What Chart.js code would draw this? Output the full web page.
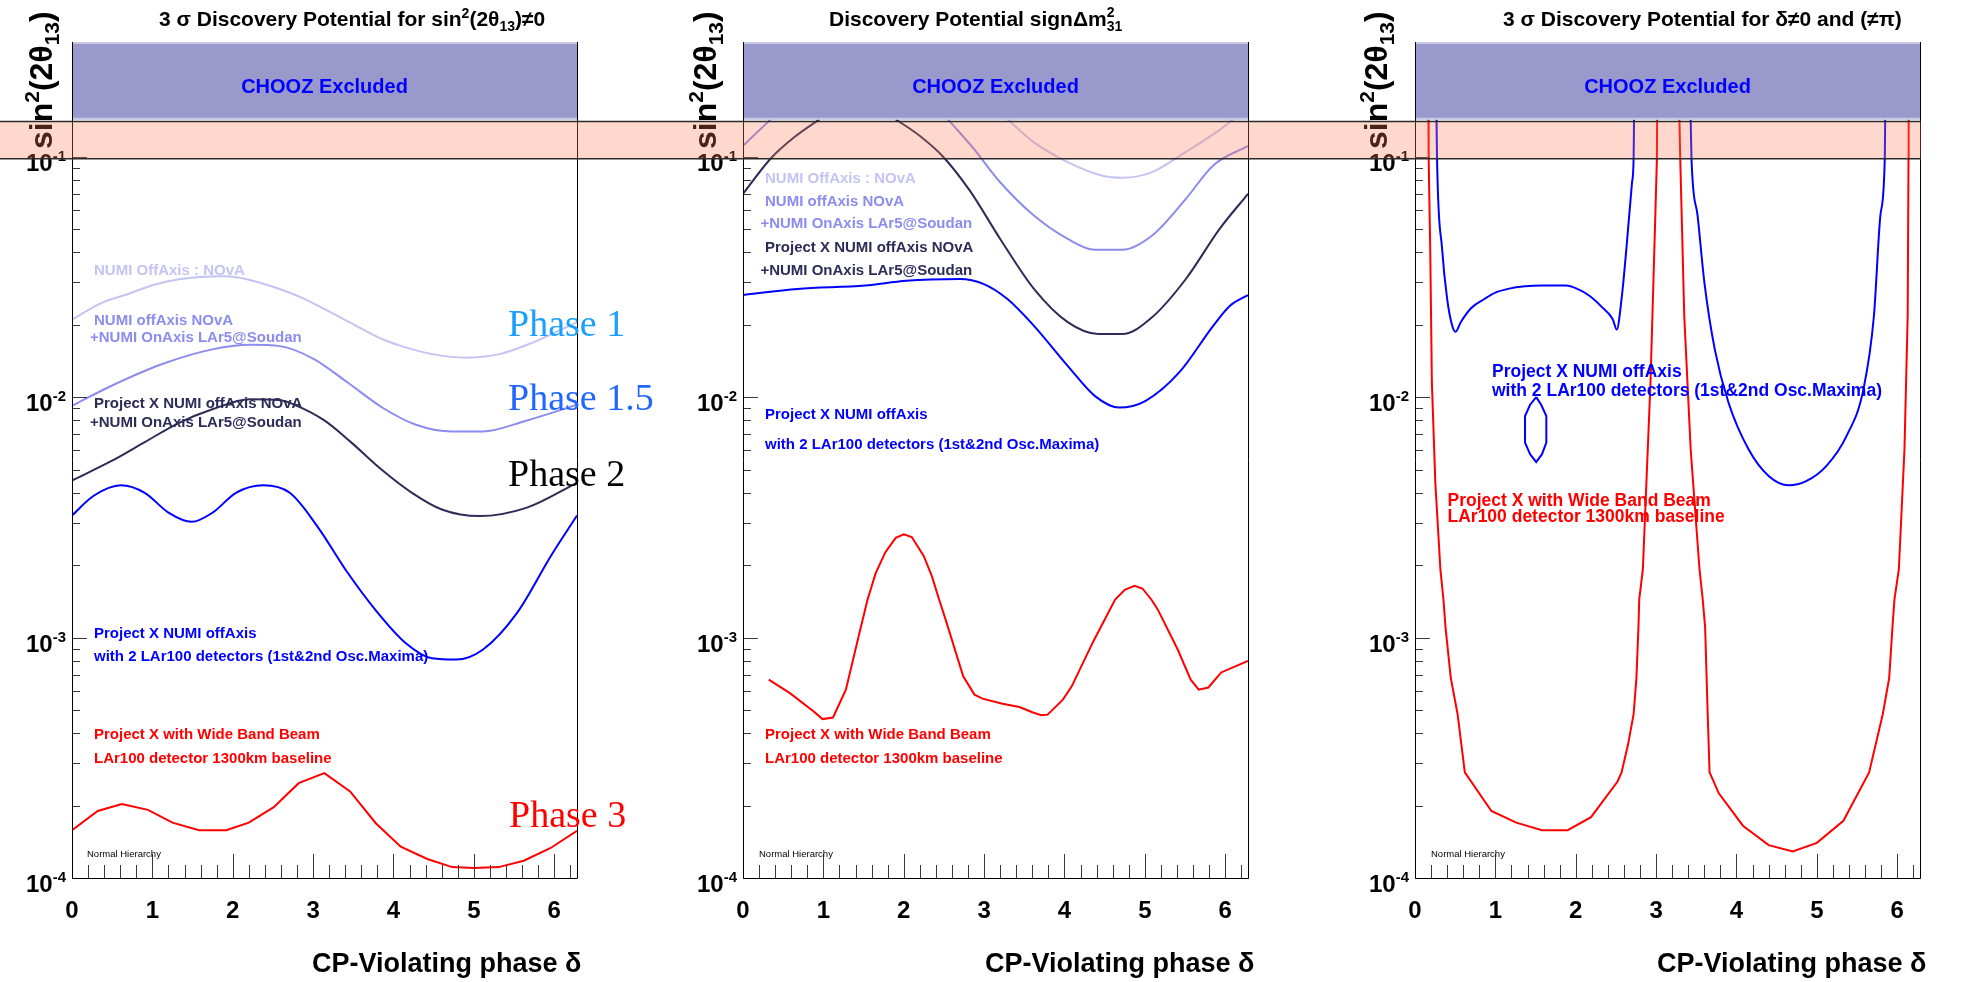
<!DOCTYPE html>
<html>
<head>
<meta charset="utf-8">
<script src="https://cdn.jsdelivr.net/npm/chart.js@4.4.1/dist/chart.umd.min.js"></script>
<style>
  html, body { margin: 0; padding: 0; background: #fff; }
  #wrap { position: relative; width: 1967px; height: 982px; overflow: hidden; }
  canvas { position: absolute; top: 0; }
</style>
</head>
<body>
<div id="wrap">
  <canvas id="p1" width="660" height="982" style="left:0px"></canvas>
  <canvas id="p2" width="670" height="982" style="left:660px"></canvas>
  <canvas id="p3" width="637" height="982" style="left:1330px"></canvas>
</div>
<script>
// axis ranges / ticks
const xRange = [0, 2 * Math.PI];
const yRange = [1e-4, 0.3];
const xTickLabels = [0, 1, 2, 3, 4, 5, 6];
const yTickExp = [-4, -3, -2, -1];
const choozLimit = [0.143, 0.3];   // excluded region
const highlightBand = [0.098, 0.14];

// panel 1 : sin^2(2theta13) != 0   [delta, sin^2 2theta13]
const s13_nova = [[0,0.021],[0.35,0.0245],[0.69,0.0268],[1.0,0.0292],[1.33,0.0309],[1.6,0.0316],[1.9,0.0318],[2.2,0.0308],[2.5,0.0288],[2.85,0.026],[3.22,0.0225],[3.55,0.0197],[3.85,0.0175],[4.15,0.0161],[4.48,0.0151],[4.9,0.0146],[5.32,0.0151],[5.74,0.0169],[6.0,0.0185],[6.2832,0.0205]];
const s13_novaLar5 = [[0,0.0092],[0.48,0.0111],[1.115,0.0137],[1.746,0.0158],[2.21,0.0165],[2.59,0.0163],[3.01,0.0144],[3.43,0.0115],[3.85,0.0091],[4.27,0.0077],[4.73,0.0072],[5.11,0.0072],[5.66,0.008],[6.2832,0.0093]];
const s13_pxNova = [[0,0.0045],[0.48,0.0054],[0.905,0.0065],[1.326,0.0078],[1.746,0.0089],[2.21,0.0098],[2.59,0.0097],[2.8,0.0092],[3.14,0.008],[3.47,0.0065],[3.85,0.005],[4.23,0.004],[4.61,0.0034],[5.07,0.0032],[5.66,0.00347],[6.2832,0.0044]];
const s13_px2Lar = [[0,0.00322],[0.27,0.00389],[0.61,0.0043],[0.905,0.004],[1.2,0.00331],[1.49,0.00303],[1.75,0.00331],[2.04,0.004],[2.38,0.0043],[2.71,0.004],[3.05,0.00291],[3.43,0.00186],[3.77,0.00131],[4.15,0.00095],[4.48,0.00082],[4.78,0.00081],[5.11,0.00089],[5.54,0.00127],[5.96,0.00219],[6.2832,0.00322]];
const s13_wbb = [[0,1.58e-4],[0.32,1.9e-4],[0.62,2.03e-4],[0.945,1.92e-4],[1.25,1.7e-4],[1.58,1.58e-4],[1.92,1.58e-4],[2.2,1.7e-4],[2.51,1.97e-4],[2.82,2.48e-4],[3.14,2.73e-4],[3.46,2.29e-4],[3.78,1.69e-4],[4.09,1.35e-4],[4.42,1.2e-4],[4.73,1.11e-4],[5.0,1.1e-4],[5.31,1.11e-4],[5.62,1.18e-4],[5.95,1.33e-4],[6.2832,1.57e-4]];

// panel 2 : sign of dm^2_31
const mh_nova = [[3.29,0.143],[3.62,0.1147],[4.04,0.095],[4.46,0.0836],[4.72,0.0818],[5.09,0.0863],[5.51,0.1047],[5.89,0.1266],[6.1,0.143]];
const mh_novaLar5_a = [[0,0.111],[0.345,0.143]];
const mh_novaLar5_b = [[2.55,0.143],[2.87,0.108],[3.2,0.0783],[3.62,0.0569],[4.04,0.0455],[4.38,0.041],[4.72,0.041],[5.09,0.047],[5.51,0.0668],[5.85,0.092],[6.2832,0.111]];
const mh_pxNova_a = [[0,0.0701],[0.345,0.0983],[0.64,0.1207],[0.95,0.143]];
const mh_pxNova_b = [[1.9,0.143],[2.19,0.1228],[2.49,0.1],[2.82,0.0724],[3.2,0.0455],[3.62,0.0282],[4.04,0.0205],[4.42,0.0183],[4.72,0.0183],[5.09,0.0215],[5.51,0.031],[5.93,0.0501],[6.2832,0.0701]];
const mh_px2Lar = [[0,0.0266],[0.68,0.0282],[1.52,0.0291],[2.03,0.0305],[2.7,0.031],[2.99,0.0296],[3.29,0.0256],[3.62,0.0198],[4.04,0.0135],[4.38,0.0101],[4.68,0.00905],[5.01,0.00966],[5.43,0.0127],[5.85,0.0198],[6.06,0.024],[6.2832,0.0266]];
const mh_wbb = [[0.32,6.68e-4],[0.58,5.89e-4],[0.88,4.93e-4],[0.99,4.58e-4],[1.12,4.65e-4],[1.28,6.07e-4],[1.45,1.05e-3],[1.55,1.44e-3],[1.65,1.85e-3],[1.77,2.26e-3],[1.9,2.6e-3],[2.0,2.69e-3],[2.1,2.62e-3],[2.25,2.18e-3],[2.35,1.8e-3],[2.44,1.44e-3],[2.52,1.19e-3],[2.74,6.9e-4],[2.88,5.79e-4],[2.98,5.57e-4],[3.23,5.31e-4],[3.44,5.14e-4],[3.6,4.89e-4],[3.71,4.75e-4],[3.79,4.78e-4],[3.98,5.52e-4],[4.09,6.27e-4],[4.36,9.66e-4],[4.63,1.44e-3],[4.75,1.58e-3],[4.87,1.64e-3],[4.97,1.6e-3],[5.08,1.44e-3],[5.16,1.31e-3],[5.41,8.9e-4],[5.57,6.68e-4],[5.67,6.07e-4],[5.79,6.2e-4],[5.95,7.16e-4],[6.2832,8.0e-4]];

// panel 3 : delta != 0 and != pi
const cp_px2Lar_a = [[0.268,0.143],[0.274,0.0986],[0.337,0.0414],[0.4,0.0256],[0.463,0.0198],[0.505,0.0187],[0.569,0.0205],[0.7,0.0235],[0.863,0.0256],[1.0,0.0272],[1.158,0.0282],[1.37,0.0289],[1.58,0.0291],[1.874,0.0291],[2.02,0.0282],[2.17,0.0264],[2.32,0.0238],[2.46,0.0211],[2.51,0.0191],[2.57,0.0256],[2.63,0.0414],[2.7,0.078],[2.72,0.0986],[2.725,0.143]];
const cp_px2Lar_lens = [[1.508,0.0100],[1.57,0.0093],[1.634,0.00835],[1.634,0.00647],[1.58,0.00579],[1.508,0.00537],[1.432,0.00579],[1.369,0.00647],[1.369,0.00835],[1.432,0.0093],[1.508,0.0100]];
const cp_px2Lar_b = [[3.43,0.143],[3.44,0.0986],[3.516,0.0569],[3.6,0.0301],[3.73,0.0158],[3.9,0.0095],[4.15,0.00607],[4.4,0.0047],[4.65,0.0043],[4.86,0.00446],[5.12,0.00518],[5.37,0.0069],[5.58,0.0108],[5.71,0.0218],[5.79,0.0569],[5.845,0.0986],[5.85,0.143]];
const cp_wbb_a = [[0.167,0.143],[0.17,0.0986],[0.19,0.04],[0.21,0.0115],[0.253,0.0044],[0.316,0.00192],[0.354,1.44e-3],[0.38,1.1e-3],[0.445,6.8e-4],[0.53,4.8e-4],[0.62,2.75e-4],[0.95,1.9e-4],[1.26,1.7e-4],[1.58,1.58e-4],[1.9,1.58e-4],[2.19,1.79e-4],[2.52,2.52e-4],[2.57,2.75e-4],[2.65,3.58e-4],[2.72,4.8e-4],[2.755,6.8e-4],[2.78,1.1e-3],[2.79,1.44e-3],[2.835,0.00192],[2.93,0.0115],[2.99,0.0569],[3.01,0.0986],[3.012,0.143]];
const cp_wbb_b = [[3.29,0.143],[3.3,0.0986],[3.35,0.0218],[3.43,0.00607],[3.54,0.00192],[3.58,1.44e-3],[3.61,1.1e-3],[3.64,5e-4],[3.665,2.75e-4],[3.78,2.25e-4],[4.08,1.65e-4],[4.4,1.37e-4],[4.7,1.29e-4],[5.0,1.4e-4],[5.33,1.73e-4],[5.65,2.75e-4],[5.82,4.8e-4],[5.9,6.8e-4],[5.94,1.1e-3],[5.965,1.44e-3],[6.02,0.00192],[6.09,0.00607],[6.13,0.0218],[6.14,0.0986],[6.142,0.143]];

const LIGHT = '#c4c4f4', MEDIUM = '#8c8cee', DARK = '#2c2c58', BLUE = '#0000ff', RED = '#ff0000';
const SANS = '"Liberation Sans", Arial, Helvetica, sans-serif';
const SERIF = '"Liberation Serif", "Times New Roman", serif';

const panels = [
  {
    id: 'p1', pad: { left: 72, right: 83 }, bandRight: 'canvas',
    title: [['3 \u03c3 Discovery Potential for sin', 21], ['2', 14, -8], ['(2\u03b8', 21], ['13', 14, 5], [')\u22600', 21]],
    titleX: 159, yTitleX: 52, xTitleX: 312,
    series: [
      [s13_nova, LIGHT, 'smooth'], [s13_novaLar5, MEDIUM, 'smooth'], [s13_pxNova, DARK, 'smooth'],
      [s13_px2Lar, BLUE, 'smooth'], [s13_wbb, RED, 'straight']
    ],
    texts: [
      ['NUMI OffAxis : NOvA', 94, 275, LIGHT, 15],
      ['NUMI offAxis NOvA', 94, 324.5, MEDIUM, 15],
      ['+NUMI OnAxis LAr5@Soudan', 90, 341.5, MEDIUM, 15],
      ['Project X NUMI offAxis NOvA', 94, 408, DARK, 15],
      ['+NUMI OnAxis LAr5@Soudan', 90, 426.5, DARK, 15],
      ['Project X NUMI offAxis', 94, 637.5, BLUE, 15],
      ['with 2 LAr100 detectors (1st&2nd Osc.Maxima)', 94, 660.5, BLUE, 15],
      ['Project X with Wide Band Beam', 94, 738.5, RED, 15],
      ['LAr100 detector 1300km baseline', 94, 762.5, RED, 15],
      ['Normal Hierarchy', 87, 857, '#000', 9.5, 'normal'],
      ['Phase 1', 508, 336, '#1a9fff', 38, 'serif'],
      ['Phase 1.5', 508, 410, '#2266ff', 38, 'serif'],
      ['Phase 2', 508, 486, '#000000', 38, 'serif'],
      ['Phase 3', 509, 827, '#ff0000', 38, 'serif']
    ]
  },
  {
    id: 'p2', pad: { left: 83, right: 82 }, bandRight: 'canvas',
    title: [['Discovery Potential sign\u0394m', 21], ['2', 14, -9, true], ['31', 14, 5]],
    titleX: 169, yTitleX: 56, xTitleX: 325,
    series: [
      [mh_nova, LIGHT, 'smooth'], [mh_novaLar5_a, MEDIUM, 'smooth'], [mh_novaLar5_b, MEDIUM, 'smooth'],
      [mh_pxNova_a, DARK, 'smooth'], [mh_pxNova_b, DARK, 'smooth'],
      [mh_px2Lar, BLUE, 'smooth'], [mh_wbb, RED, 'straight']
    ],
    texts: [
      ['NUMI OffAxis : NOvA', 105, 183, LIGHT, 15],
      ['NUMI offAxis NOvA', 105, 205.7, MEDIUM, 15],
      ['+NUMI OnAxis LAr5@Soudan', 100.4, 228.4, MEDIUM, 15],
      ['Project X NUMI offAxis NOvA', 105, 252, DARK, 15],
      ['+NUMI OnAxis LAr5@Soudan', 100.4, 274.7, DARK, 15],
      ['Project X NUMI offAxis', 105, 419.4, BLUE, 15],
      ['with 2 LAr100 detectors (1st&2nd Osc.Maxima)', 105, 449.4, BLUE, 15],
      ['Project X with Wide Band Beam', 105, 738.5, RED, 15],
      ['LAr100 detector 1300km baseline', 105, 762.5, RED, 15],
      ['Normal Hierarchy', 99, 857, '#000', 9.5, 'normal']
    ]
  },
  {
    id: 'p3', pad: { left: 85, right: 47 }, bandRight: 'plot',
    title: [['3 \u03c3 Discovery Potential for \u03b4\u22600 and (\u2260\u03c0)', 21]],
    titleX: 173, yTitleX: 57, xTitleX: 327,
    series: [
      [cp_px2Lar_a, BLUE, 'smooth'], [cp_px2Lar_lens, BLUE, 'straight'], [cp_px2Lar_b, BLUE, 'smooth'],
      [cp_wbb_a, RED, 'straight'], [cp_wbb_b, RED, 'straight']
    ],
    texts: [
      ['Project X NUMI offAxis', 162, 377.3, BLUE, 17.5],
      ['with 2 LAr100 detectors (1st&2nd Osc.Maxima)', 162, 396.3, BLUE, 17.5],
      ['Project X with Wide Band Beam', 117.5, 506.3, RED, 17.5],
      ['LAr100 detector 1300km baseline', 117.5, 522.3, RED, 17.5],
      ['Normal Hierarchy', 101, 857, '#000', 9.5, 'normal']
    ]
  }
];

// draws text pieces one after another; [text, size, dy, stacked]
function drawRich(ctx, parts, x, y) {
  let cx = x;
  for (const [t, size, dy = 0, stack = false] of parts) {
    ctx.font = `bold ${size}px ${SANS}`;
    ctx.fillText(t, cx, y + dy);
    if (!stack) cx += ctx.measureText(t).width;
  }
}

function decor(p) {
  return {
    id: 'decor_' + p.id,
    afterDatasetsDraw(chart) {
      const { ctx, chartArea: a, scales: { x, y } } = chart;
      ctx.save();

      // ROOT style ticks, drawn inside the frame
      ctx.strokeStyle = '#3a3a3a';
      ctx.lineWidth = 1;
      ctx.beginPath();
      for (let d = -4; d <= -1; d++) {
        for (let m = 1; m <= 9; m++) {
          const v = m * Math.pow(10, d);
          if (v > yRange[1]) break;
          const py = Math.round(y.getPixelForValue(v)) + 0.5;
          ctx.moveTo(a.left, py);
          ctx.lineTo(a.left + (m === 1 ? 15 : 8), py);
        }
      }
      for (let i = 0; i * 0.2 <= xRange[1]; i++) {
        const px = Math.round(x.getPixelForValue(i * 0.2)) + 0.5;
        ctx.moveTo(px, a.bottom);
        ctx.lineTo(px, a.bottom - (i % 5 === 0 ? 24 : 13));
      }
      ctx.stroke();

      // CHOOZ excluded region
      const cTop = y.getPixelForValue(choozLimit[1]);
      const cBot = y.getPixelForValue(choozLimit[0]);
      ctx.fillStyle = '#9999cc';
      ctx.fillRect(a.left, cTop, a.right - a.left, cBot - cTop);
      ctx.strokeStyle = '#c8c8e6';
      ctx.lineWidth = 2;
      ctx.beginPath();
      ctx.moveTo(a.left, cTop + 1); ctx.lineTo(a.right, cTop + 1);
      ctx.moveTo(a.left, cBot - 0.5); ctx.lineTo(a.right, cBot - 0.5);
      ctx.stroke();
      ctx.fillStyle = '#0000ff';
      ctx.font = `bold 20px ${SANS}`;
      ctx.textAlign = 'center';
      ctx.textBaseline = 'middle';
      ctx.fillText('CHOOZ Excluded', (a.left + a.right) / 2, (cTop + cBot) / 2 + 7);

      // frame
      ctx.strokeStyle = '#000';
      ctx.lineWidth = 1;
      ctx.beginPath();
      ctx.moveTo(Math.round(a.left) + 0.5, a.top);
      ctx.lineTo(Math.round(a.left) + 0.5, a.bottom + 0.5);
      ctx.lineTo(Math.round(a.right) + 0.5, a.bottom + 0.5);
      ctx.lineTo(Math.round(a.right) + 0.5, a.top);
      ctx.stroke();

      // y tick labels 10^n
      ctx.fillStyle = '#000';
      ctx.textAlign = 'left';
      ctx.textBaseline = 'alphabetic';
      yTickExp.forEach(e => {
        const py = y.getPixelForValue(Math.pow(10, e));
        const sup = String(e);
        ctx.font = `bold 15px ${SANS}`;
        const wSup = ctx.measureText(sup).width;
        ctx.font = `bold 24px ${SANS}`;
        const wBase = ctx.measureText('10').width;
        const x0 = a.left - 6 - wSup - wBase;
        ctx.fillText('10', x0, py + 14);
        ctx.font = `bold 15px ${SANS}`;
        ctx.fillText(sup, x0 + wBase, py + 4);
      });

      // x tick labels
      ctx.font = `bold 24px ${SANS}`;
      ctx.textAlign = 'center';
      xTickLabels.forEach(v => ctx.fillText(String(v), x.getPixelForValue(v), 917.5));

      // titles
      ctx.textAlign = 'left';
      drawRich(ctx, p.title, p.titleX, 26);
      drawRich(ctx, [['CP-Violating phase \u03b4', 27]], p.xTitleX, 972);
      ctx.save();
      ctx.translate(p.yTitleX, 149);
      ctx.rotate(-Math.PI / 2);
      drawRich(ctx, [['sin', 32], ['2', 21, -13], ['(2\u03b8', 32], ['13', 21, 7], [')', 32]], 0, 0);
      ctx.restore();

      // annotations
      p.texts.forEach(([t, tx, ty, col, size, kind]) => {
        ctx.fillStyle = col;
        if (kind === 'serif') ctx.font = `${size}px ${SERIF}`;
        else if (kind === 'normal') ctx.font = `${size}px ${SANS}`;
        else ctx.font = `bold ${size}px ${SANS}`;
        ctx.fillText(t, tx, ty);
      });
      ctx.restore();
    },
    afterDraw(chart) {
      const { ctx, chartArea: a, scales: { y } } = chart;
      const top = y.getPixelForValue(highlightBand[1]);
      const bot = y.getPixelForValue(highlightBand[0]);
      const right = p.bandRight === 'canvas' ? chart.width : a.right + 1;
      ctx.save();
      ctx.fillStyle = 'rgba(250,120,80,0.29)';
      ctx.fillRect(0, top, right, bot - top);
      ctx.strokeStyle = '#2a2a2a';
      ctx.lineWidth = 1.5;
      ctx.beginPath();
      ctx.moveTo(0, top); ctx.lineTo(right, top);
      ctx.moveTo(0, bot); ctx.lineTo(right, bot);
      ctx.stroke();
      ctx.restore();
    }
  };
}

const toPoints = arr => arr.map(([x, y]) => ({ x, y }));

panels.forEach(p => {
  const datasets = p.series.map(([data, color, mode]) => ({
    data: toPoints(data),
    showLine: true,
    borderColor: color,
    borderWidth: 2,
    pointRadius: 0,
    fill: false,
    cubicInterpolationMode: mode === 'smooth' ? 'monotone' : 'default',
    tension: 0
  }));

  new Chart(document.getElementById(p.id).getContext('2d'), {
    type: 'scatter',
    data: { datasets },
    options: {
      responsive: false,
      animation: false,
      devicePixelRatio: 1,
      layout: { padding: { left: p.pad.left, right: p.pad.right, top: 42, bottom: 104 } },
      plugins: { legend: { display: false }, tooltip: { enabled: false } },
      scales: {
        x: { type: 'linear', min: xRange[0], max: xRange[1], display: false },
        y: { type: 'logarithmic', min: yRange[0], max: yRange[1], display: false }
      }
    },
    plugins: [decor(p)]
  });
});
</script>
</body>
</html>
